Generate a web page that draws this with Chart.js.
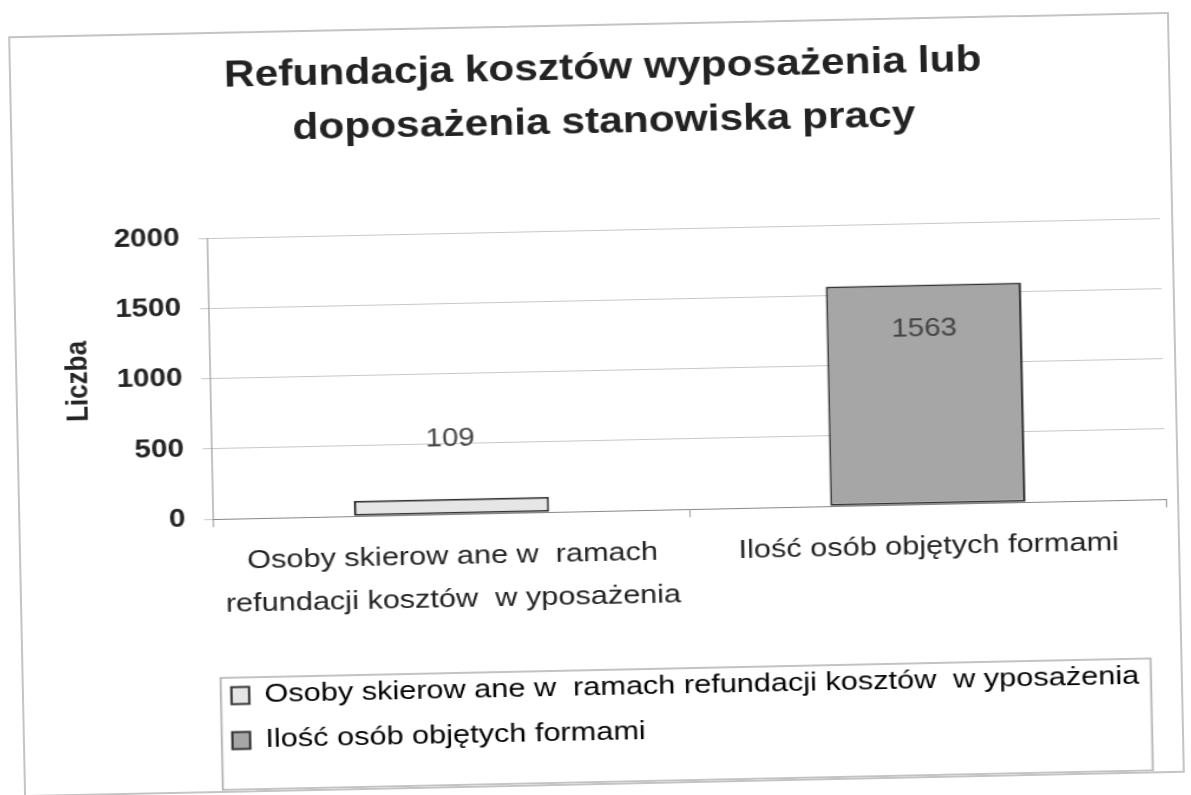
<!DOCTYPE html>
<html lang="pl">
<head>
<meta charset="UTF-8">
<title>Refundacja kosztów wyposażenia lub doposażenia stanowiska pracy</title>
<script src="https://cdn.jsdelivr.net/npm/chart.js"></script>
<style>
  body { margin: 0; background: #fff; width: 1191px; height: 795px; overflow: hidden; position: relative; }
  /* the scan is slightly tilted and the text is a bit wide, so the frame is rotated and stretched */
  #frame { position: absolute; left: 16px; top: 24px; width: 1161px; height: 761px;
           border: 2px solid #c4c4c4; box-sizing: border-box; background: #fff;
           transform: rotate(-1.2deg); }
  #stretch { position: absolute; left: 0; top: 0; width: 980px; height: 757px;
             transform-origin: 0 0; transform: scaleX(1.18); }
</style>
</head>
<body>
<div id="frame">
  <div id="stretch"><canvas id="chart"></canvas></div>
</div>
<script>
const categories = [
  ['Osoby skierow ane w  ramach', 'refundacji kosztów  w yposażenia'],
  'Ilość osób objętych formami'
];
const legendNames = [
  'Osoby skierow ane w  ramach refundacji kosztów  w yposażenia',
  'Ilość osób objętych formami'
];
const counts = [109, 1563];
const yTicks = [0, 500, 1000, 1500, 2000];
const barColors = ['#e6e6e6', '#a6a6a6'];

const FONT = '"Liberation Sans", Arial, Helvetica, sans-serif';
const INK = '#222';

// numbers on the bars: above the short one, inside the tall one
const valueLabels = {
  id: 'valueLabels',
  afterDatasetsDraw(chart) {
    const ctx = chart.ctx;
    const meta = chart.getDatasetMeta(0);
    ctx.save();
    ctx.font = '25px ' + FONT;
    ctx.fillStyle = '#444';
    ctx.textAlign = 'center';
    ctx.textBaseline = 'middle';
    meta.data.forEach((bar, i) => {
      const tall = bar.base - bar.y > 100;
      ctx.fillText(String(counts[i]), bar.x, tall ? bar.y + 45 : bar.y - 60);
    });
    ctx.restore();
  }
};

// legend sits a little left of where chart.js puts it; draw a thin box round it
const legendBox = {
  id: 'legendBox',
  afterLayout(chart) {
    const lg = chart.legend;
    if (!lg) return;
    lg.left -= 7;
    lg.right -= 7;
  },
  afterDraw(chart) {
    const lg = chart.legend;
    if (!lg || !lg.legendHitBoxes || lg.legendHitBoxes.length < 2) return;
    const first = lg.legendHitBoxes[0];
    const last = lg.legendHitBoxes[lg.legendHitBoxes.length - 1];
    const x0 = first.left - 9;
    const x1 = first.left + first.width + 10;
    const y0 = first.top - 5;
    const y1 = last.top + 62;
    const ctx = chart.ctx;
    ctx.save();
    ctx.strokeStyle = '#b0b0b0';
    ctx.lineWidth = 1.5;
    ctx.strokeRect(x0, y0, x1 - x0, y1 - y0);
    ctx.restore();
  }
};

new Chart(document.getElementById('chart'), {
  type: 'bar',
  data: {
    labels: categories,
    datasets: [{
      label: 'Liczba',
      data: counts,
      backgroundColor: barColors,
      borderColor: '#333',
      borderWidth: 2,
      borderSkipped: false,
      barPercentage: 0.41,
      categoryPercentage: 1
    }]
  },
  options: {
    responsive: true,
    maintainAspectRatio: false,
    animation: false,
    layout: { padding: { left: 32, right: 9, top: 0, bottom: 27 } },
    plugins: {
      title: {
        display: true,
        text: ['Refundacja kosztów wyposażenia lub', 'doposażenia stanowiska pracy'],
        color: INK,
        font: { family: FONT, size: 36, weight: 'bold', lineHeight: 1.5 },
        padding: { top: 16, bottom: 80 }
      },
      legend: {
        position: 'bottom',
        align: 'start',
        fullSize: false,
        labels: {
          color: INK,
          font: { family: FONT, size: 26 },
          boxWidth: 15,
          boxHeight: 17,
          padding: 19,
          generateLabels: () => legendNames.map((name, i) => ({
            text: name,
            fillStyle: barColors[i],
            strokeStyle: '#333',
            lineWidth: 2,
            index: i
          }))
        }
      },
      tooltip: { enabled: false }
    },
    scales: {
      x: {
        grid: { drawOnChartArea: false, tickLength: 8, color: '#999' },
        border: { color: '#888' },
        ticks: { color: INK, font: { family: FONT, size: 26, lineHeight: 1.65 }, padding: 13, maxRotation: 0 },
        afterFit: (scale) => { scale.height += 25; }
      },
      y: {
        min: 0,
        max: 2000,
        afterBuildTicks: (scale) => { scale.ticks = yTicks.map(v => ({ value: v })); },
        grid: { color: '#c8c8c8', tickLength: 8 },
        border: { color: '#999' },
        ticks: {
          color: INK,
          font: { family: FONT, size: 25, weight: 'bold' },
          padding: 16,
          callback: (v) => String(v)
        },
        title: {
          display: true,
          text: 'Liczba',
          color: INK,
          font: { family: FONT, size: 26, weight: 'bold' },
          padding: { top: 4, bottom: 1 }
        }
      }
    }
  },
  plugins: [valueLabels, legendBox]
});
</script>
</body>
</html>
